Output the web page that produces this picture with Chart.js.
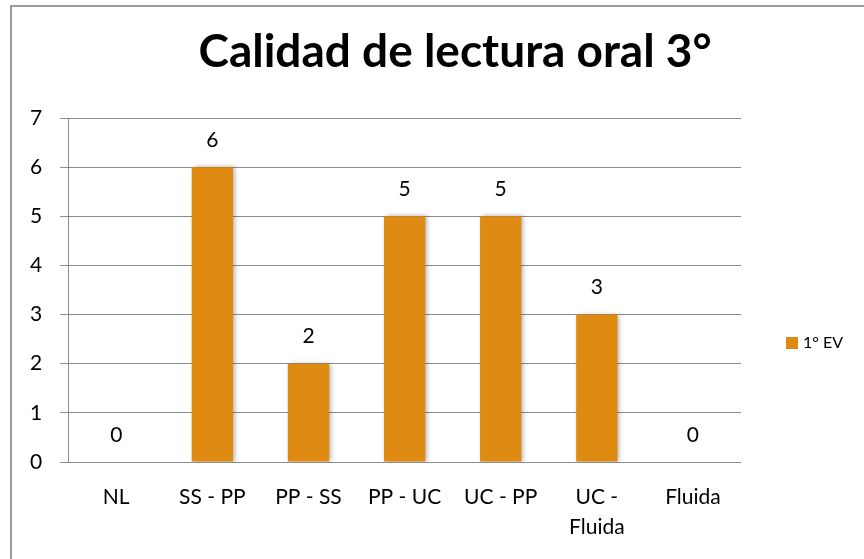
<!DOCTYPE html>
<html>
<head>
<meta charset="utf-8">
<script src="https://cdn.jsdelivr.net/npm/chart.js@4"></script>
<style>
  html, body { margin: 0; padding: 0; background: #fff; }
  #wrap { width: 864px; height: 559px; position: relative; }
</style>
</head>
<body>
<div id="wrap"><canvas id="myChart"></canvas></div>
<script>
const categories = ["NL", "SS - PP", "PP - SS", "PP - UC", "UC - PP", ["UC -", "Fluida"], "Fluida"];
const values = [0, 6, 2, 5, 5, 3, 0];
const seriesName = "1° EV";
const chartTitle = "Calidad de lectura oral 3°";
const yTicks = [0, 1, 2, 3, 4, 5, 6, 7];

const barColor = "#df8b12";
const fontFamily = "Lato, 'Open Sans', sans-serif";

// outer frame (only left and top edges are inside the picture)
const framePlugin = {
  id: "frame",
  beforeDraw(chart) {
    const ctx = chart.ctx;
    ctx.save();
    ctx.strokeStyle = "#9a9a9a";
    ctx.lineWidth = 2;
    ctx.strokeRect(11, 6, 900, 600);
    ctx.restore();
  }
};

// soft shadow behind the bars
const shadowPlugin = {
  id: "barShadow",
  beforeDatasetsDraw(chart) {
    const ctx = chart.ctx;
    ctx.save();
    ctx.shadowColor = "rgba(0,0,0,0.35)";
    ctx.shadowBlur = 5;
    ctx.shadowOffsetX = 2;
    ctx.shadowOffsetY = 0;
  },
  afterDatasetsDraw(chart) {
    chart.ctx.restore();
  }
};

// title, value labels above bars, legend at the right
const labelPlugin = {
  id: "valueLabels",
  afterDraw(chart) {
    const ctx = chart.ctx;
    const meta = chart.getDatasetMeta(0);
    ctx.save();
    ctx.fillStyle = "#000";

    ctx.font = "bold 46px " + fontFamily;
    ctx.textAlign = "center";
    ctx.textBaseline = "alphabetic";
    ctx.fillText(chartTitle, 455, 67);

    ctx.font = "21px " + fontFamily;
    ctx.textBaseline = "middle";
    meta.data.forEach((bar, i) => {
      ctx.fillText(String(values[i]), bar.x, bar.y - 27);
    });

    // legend
    ctx.fillStyle = barColor;
    ctx.fillRect(786, 337, 12, 12);
    ctx.fillStyle = "#000";
    ctx.font = "16px " + fontFamily;
    ctx.textAlign = "left";
    ctx.fillText(chart.data.datasets[0].label, 803, 343);
    ctx.restore();
  }
};

const data = {
  labels: categories,
  datasets: [
    {
      label: seriesName,
      data: values,
      backgroundColor: barColor,
      borderWidth: 0,
      categoryPercentage: 1,
      barPercentage: 0.43,
    },
  ],
};

const config = {
  type: "bar",
  data,
  options: {
    responsive: true,
    maintainAspectRatio: false,
    animation: false,
    layout: {
      padding: { left: 12, right: 123, top: 118, bottom: 0 },
    },
    plugins: {
      legend: { display: false },
      tooltip: { enabled: false },
      title: { display: false },
    },
    scales: {
      x: {
        afterFit(scale) {
          scale.height = 97;
        },
        grid: { display: false, drawTicks: false },
        border: { display: false },
        ticks: {
          color: "#000",
          font: { family: fontFamily, size: 21, lineHeight: 1.45 },
          padding: 20,
          maxRotation: 0,
          autoSkip: false,
        },
      },
      y: {
        min: 0,
        max: 7,
        afterBuildTicks(scale) {
          scale.ticks = yTicks.map((v) => ({ value: v }));
        },
        grid: { color: "#8c8c8c", lineWidth: 1, tickLength: 8 },
        border: { display: true, color: "#8c8c8c" },
        ticks: {
          color: "#000",
          font: { family: fontFamily, size: 21 },
          padding: 18,
        },
      },
    },
  },
  plugins: [framePlugin, shadowPlugin, labelPlugin],
};

const myChart = new Chart(document.getElementById("myChart"), config);
</script>
</body>
</html>
